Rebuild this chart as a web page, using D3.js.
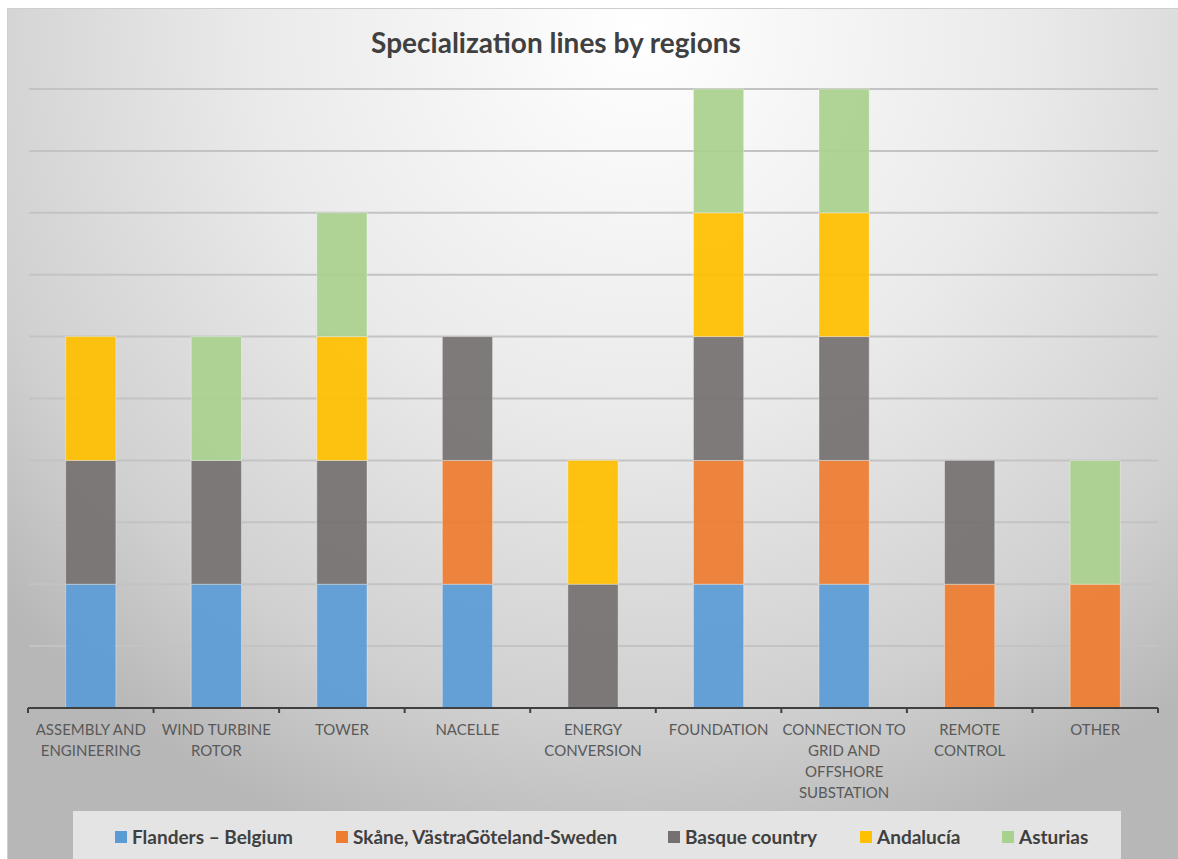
<!DOCTYPE html>
<html>
<head>
<meta charset="utf-8">
<script src="https://cdn.jsdelivr.net/npm/d3@7"></script>
<style>
  html, body { margin: 0; padding: 0; background: #ffffff; }
  svg { display: block; }
</style>
</head>
<body>
<svg id="chart" width="1178" height="859"></svg>
<script>
// Value chain segments (x categories), each label split into lines
const categories = [
  ["ASSEMBLY AND", "ENGINEERING"],
  ["WIND TURBINE", "ROTOR"],
  ["TOWER"],
  ["NACELLE"],
  ["ENERGY", "CONVERSION"],
  ["FOUNDATION"],
  ["CONNECTION TO", "GRID AND", "OFFSHORE", "SUBSTATION"],
  ["REMOTE", "CONTROL"],
  ["OTHER"]
];

// Regions (stacked series) in stacking order
const regions = ["Flanders – Belgium", "Skåne, VästraGöteland-Sweden", "Basque country", "Andalucía", "Asturias"];
const regionColors = ["#5B9BD5", "#ED7D31", "#767171", "#FFC000", "#A9D18E"];

// Presence of each region per category
const flanders  = [1, 1, 1, 1, 0, 1, 1, 0, 0];
const skane     = [0, 0, 0, 1, 0, 1, 1, 1, 1];
const basque    = [1, 1, 1, 1, 1, 1, 1, 1, 0];
const andalucia = [1, 0, 1, 0, 1, 1, 1, 0, 0];
const asturias  = [0, 1, 1, 0, 0, 1, 1, 0, 1];

// Value axis gridlines (no labels shown)
const gridTicks = [0.5, 1, 1.5, 2, 2.5, 3, 3.5, 4, 4.5, 5];

const title = "Specialization lines by regions";

const seriesValues = [flanders, skane, basque, andalucia, asturias];
const rows = categories.map((c, i) => {
  const r = { key: i };
  regions.forEach((name, k) => { r[name] = seriesValues[k][i]; });
  return r;
});

const svg = d3.select("#chart");
const W = 1178, H = 859;
const frame = { x: 7, y: 8, w: W - 7, h: H - 8 };

// Background with soft radial shading
const defs = svg.append("defs");
const grad = defs.append("radialGradient")
  .attr("id", "bg")
  .attr("gradientUnits", "userSpaceOnUse")
  .attr("cx", 640).attr("cy", 30).attr("r", 860)
  .attr("fx", 640).attr("fy", 30);
grad.append("stop").attr("offset", 0).attr("stop-color", "#ffffff");
grad.append("stop").attr("offset", 0.45).attr("stop-color", "#eaeaea");
grad.append("stop").attr("offset", 0.8).attr("stop-color", "#d0d0d0");
grad.append("stop").attr("offset", 1).attr("stop-color", "#b7b7b7");

svg.append("rect")
  .attr("x", frame.x).attr("y", frame.y)
  .attr("width", frame.w).attr("height", frame.h)
  .attr("fill", "url(#bg)");
svg.append("path")
  .attr("d", `M${frame.x + 0.5},${H} V${frame.y + 0.5} H${W}`)
  .attr("fill", "none").attr("stroke", "#cfcfcf").attr("stroke-width", 1);

// Scales
const plot = { left: 28, right: 1158, top: 89, bottom: 708 };
const x = d3.scaleBand()
  .domain(d3.range(categories.length))
  .range([plot.left, plot.right])
  .paddingInner(0.6).paddingOuter(0.3);
const band = d3.scaleBand()
  .domain(d3.range(categories.length))
  .range([plot.left, plot.right]);
const y = d3.scaleLinear().domain([0, 5]).range([plot.bottom, plot.top]);

// Gridlines
svg.append("g").selectAll("line")
  .data(gridTicks)
  .join("line")
  .attr("x1", plot.left + 1).attr("x2", plot.right)
  .attr("y1", d => y(d)).attr("y2", d => y(d))
  .attr("stroke", "#c3c3c3").attr("stroke-width", 2);

// Stacked bars
const stack = d3.stack().keys(regions);
const layers = stack(rows);
svg.append("g").selectAll("g")
  .data(layers)
  .join("g")
  .attr("fill", (d, i) => regionColors[i])
  .selectAll("rect")
  .data(d => d.filter(s => s[1] - s[0] > 0))
  .join("rect")
  .attr("x", d => x(d.data.key))
  .attr("width", x.bandwidth())
  .attr("y", d => y(d[1]))
  .attr("height", d => y(d[0]) - y(d[1]))
  .attr("fill-opacity", 0.93)
  .attr("stroke", "#ffffff").attr("stroke-opacity", 0.35).attr("stroke-width", 1);

// Category axis
const axis = svg.append("g").attr("transform", `translate(0,${plot.bottom})`);
axis.append("line")
  .attr("x1", plot.left).attr("x2", plot.right)
  .attr("y1", 0).attr("y2", 0)
  .attr("stroke", "#404040").attr("stroke-width", 2.2);
const boundaries = d3.range(categories.length + 1).map(i => i < categories.length ? band(i) : plot.right);
axis.selectAll("line.tick")
  .data(boundaries)
  .join("line")
  .attr("class", "tick")
  .attr("x1", d => d).attr("x2", d => d)
  .attr("y1", 0).attr("y2", 5)
  .attr("stroke", "#404040").attr("stroke-width", 2);

const labels = axis.selectAll("text.cat")
  .data(categories)
  .join("text")
  .attr("class", "cat")
  .attr("x", (d, i) => band(i) + band.bandwidth() / 2)
  .attr("y", 27)
  .attr("text-anchor", "middle")
  .attr("font-family", "Lato, 'Open Sans', sans-serif")
  .attr("font-size", 15)
  .attr("fill", "#595959");
labels.selectAll("tspan")
  .data((d, i) => d.map(t => ({ t, i })))
  .join("tspan")
  .attr("x", d => band(d.i) + band.bandwidth() / 2)
  .attr("dy", (d, j) => j === 0 ? 0 : 21)
  .text(d => d.t);

// Title
svg.append("text")
  .attr("x", 556).attr("y", 53)
  .attr("text-anchor", "middle")
  .attr("font-family", "Lato, 'Open Sans', sans-serif")
  .attr("font-weight", "bold")
  .attr("font-size", 28)
  .attr("fill", "#404040")
  .text(title);

// Legend
const legend = svg.append("g");
legend.append("rect")
  .attr("x", 73).attr("y", 811)
  .attr("width", 1048).attr("height", H - 811)
  .attr("fill", "#e4e4e4");
const legendX = [115, 336, 668, 860, 1002];
const items = legend.selectAll("g.item")
  .data(regions)
  .join("g")
  .attr("class", "item")
  .attr("transform", (d, i) => `translate(${legendX[i]},837)`);
items.append("rect")
  .attr("x", 0).attr("y", -6)
  .attr("width", 12).attr("height", 12)
  .attr("fill", (d, i) => regionColors[i]);
items.append("text")
  .attr("x", 17).attr("y", 7)
  .attr("font-family", "Lato, 'Open Sans', sans-serif")
  .attr("font-weight", "bold")
  .attr("font-size", 19)
  .attr("fill", "#404040")
  .text(d => d);
</script>
</body>
</html>
